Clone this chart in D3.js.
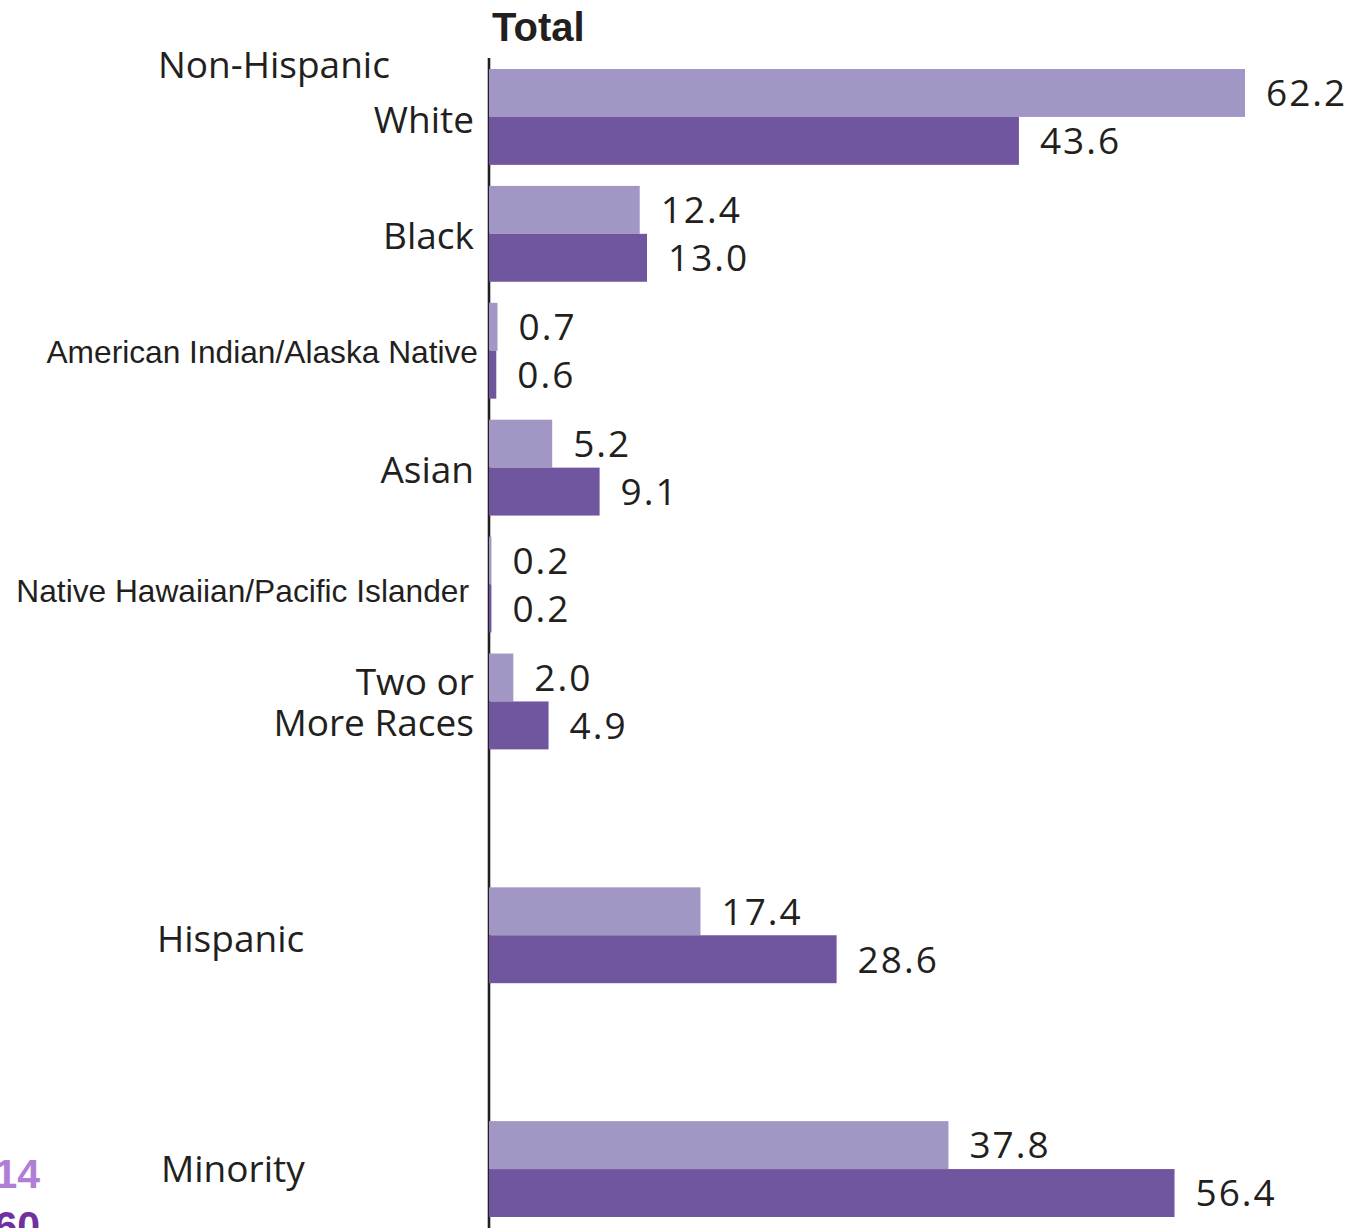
<!DOCTYPE html>
<html>
<head>
<meta charset="utf-8">
<script src="https://cdn.jsdelivr.net/npm/d3@7/dist/d3.min.js"></script>
<style>
  html, body { margin: 0; padding: 0; background: #fff; }
  svg { display: block; }
</style>
</head>
<body>
<svg id="chart" width="1363" height="1228"></svg>
<script>
// ---- data ----
const categories = ["Non-Hispanic White", "Black", "American Indian/Alaska Native", "Asian",
  "Native Hawaiian/Pacific Islander", "Two or More Races", "Hispanic", "Minority"];
const values2014 = [62.2, 12.4, 0.7, 5.2, 0.2, 2.0, 17.4, 37.8];
const values2060 = [43.6, 13.0, 0.6, 9.1, 0.2, 4.9, 28.6, 56.4];
const seriesNames = ["2014", "2060"];
const chartTitle = "Total";

// ---- layout ----
const svg = d3.select("#chart");
const W = 1363, H = 1228;
const axisX = 489;
const ink = "#231f20";
const colors = ["#a297c4", "#70569e"];
const legendColors = ["#b07ed6", "#7030a0"];

// slots: six race groups, a gap, Hispanic, a gap, Minority
const slotDomain = [categories[0], categories[1], categories[2], categories[3], categories[4], categories[5],
  "__gap1", categories[6], "__gap2", categories[7]];

const y = d3.scaleBand().domain(slotDomain).range([69, 1217]).paddingInner(0.18).paddingOuter(0);
const ySub = d3.scaleBand().domain(seriesNames).range([0, y.bandwidth()]).padding(0);
const x = d3.scaleLinear().domain([0, 62.2]).range([axisX, 1245]);

const rows = categories.map((c, i) => ({ cat: c, vals: [values2014[i], values2060[i]] }));

// axis line
svg.append("line")
  .attr("x1", axisX).attr("x2", axisX)
  .attr("y1", 58).attr("y2", H)
  .attr("stroke", ink).attr("stroke-width", 2.6);

// title
svg.append("text").text(chartTitle)
  .attr("x", 492).attr("y", 41)
  .attr("font-family", "Liberation Sans, Arial, sans-serif")
  .attr("font-weight", "bold").attr("font-size", 40)
  .attr("fill", ink);

// bars
const g = svg.selectAll("g.row").data(rows).enter().append("g")
  .attr("class", "row")
  .attr("transform", d => `translate(0,${y(d.cat)})`);

g.selectAll("rect").data(d => d.vals.map((v, j) => ({ v, s: seriesNames[j], j })))
  .enter().append("rect")
  .attr("x", x(0))
  .attr("y", d => ySub(d.s))
  .attr("width", d => x(d.v) - x(0))
  .attr("height", ySub.bandwidth())
  .attr("fill", d => colors[d.j]);

g.selectAll("text.val").data(d => d.vals.map((v, j) => ({ v, s: seriesNames[j] })))
  .enter().append("text")
  .attr("class", "val")
  .attr("x", d => x(d.v) + 21)
  .attr("y", d => ySub(d.s) + ySub.bandwidth() / 2)
  .attr("dy", "0.36em")
  .attr("font-family", "Open Sans, sans-serif")
  .attr("font-size", 37)
  .attr("letter-spacing", 2)
  .attr("fill", ink)
  .text(d => d3.format(".1f")(d.v));

// category labels
const humanist = { family: "Open Sans, sans-serif", size: 37 };
const arial = { family: "Liberation Sans, Arial, sans-serif", size: 31.7 };
const labelSpec = {
  "Non-Hispanic White": { font: humanist, lines: [["Non-Hispanic", 158, "start", -52], ["White", 474, "end", 3]] },
  "Black": { font: humanist, lines: [["Black", 474, "end", 2]] },
  "American Indian/Alaska Native": { font: arial, lines: [["American Indian/Alaska Native", 478, "end", 1]] },
  "Asian": { font: humanist, lines: [["Asian", 474, "end", 2]] },
  "Native Hawaiian/Pacific Islander": { font: arial, lines: [["Native Hawaiian/Pacific Islander", 469, "end", 6]] },
  "Two or More Races": { font: humanist, lines: [["Two or", 474, "end", -20], ["More Races", 474, "end", 21]] },
  "Hispanic": { font: humanist, lines: [["Hispanic", 157, "start", 3]] },
  "Minority": { font: humanist, lines: [["Minority", 161, "start", 0]] }
};

categories.forEach(c => {
  const spec = labelSpec[c];
  const cy = y(c) + y.bandwidth() / 2;
  spec.lines.forEach(([txt, lx, anchor, off]) => {
    svg.append("text").text(txt)
      .attr("x", lx).attr("y", cy + off)
      .attr("dy", "0.36em")
      .attr("text-anchor", anchor)
      .attr("font-family", spec.font.family)
      .attr("font-size", spec.font.size)
      .attr("fill", ink);
  });
});

// legend (clipped at the left edge in the original)
seriesNames.forEach((s, i) => {
  svg.append("text").text(s)
    .attr("x", 40).attr("y", 1188 + i * 52)
    .attr("text-anchor", "end")
    .attr("font-family", "Liberation Sans, Arial, sans-serif")
    .attr("font-weight", "bold").attr("font-size", 41)
    .attr("fill", legendColors[i]);
});
</script>
</body>
</html>
